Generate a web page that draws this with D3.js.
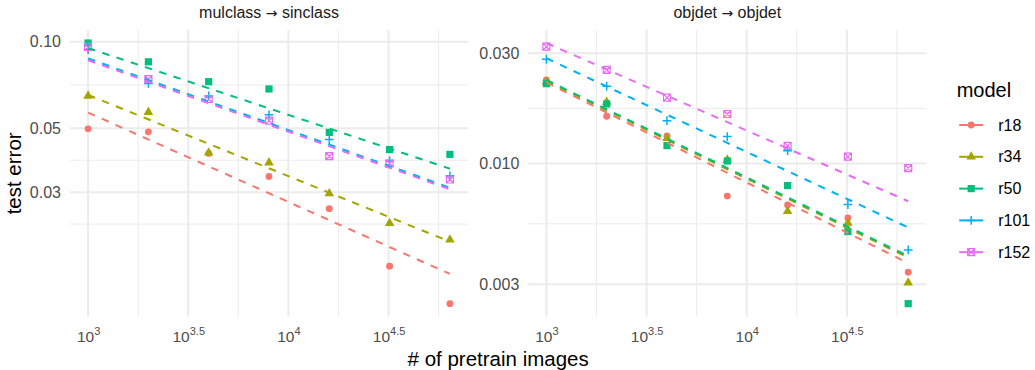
<!DOCTYPE html>
<html>
<head>
<meta charset="utf-8">
<script src="https://cdn.jsdelivr.net/npm/d3@7"></script>
<style>
  body { margin: 0; background: #fff; }
  text { font-family: "Liberation Sans", Arial, sans-serif; }
</style>
</head>
<body>
<script>
var width = 1035,
    height = 370;

var models = ["r18", "r34", "r50", "r101", "r152"];
var colors = ["#F8766D", "#A3A500", "#00BF7D", "#00B0F6", "#E76BF3"];
var shapes = ["circle", "triangle", "square", "plus", "boxcross"];
var images = [1000, 2000, 4000, 8000, 16000, 32000, 64000];
var fitRange = [1000, 64000];
var xTickExp = ["3", "3.5", "4", "4.5"];

// mulclass -> sinclass
var mulR18  = [0.0498, 0.0486, 0.0409, 0.0340, 0.0263, 0.0166, 0.0123];
var mulR34  = [0.0648, 0.0569, 0.0411, 0.0380, 0.0297, 0.0234, 0.0205];
var mulR50  = [0.0989, 0.0851, 0.0726, 0.0685, 0.0484, 0.0422, 0.0406];
var mulR101 = [0.0938, 0.0716, 0.0648, 0.0557, 0.0457, 0.0385, 0.0342];
var mulR152 = [0.0958, 0.0741, 0.0632, 0.0532, 0.0400, 0.0378, 0.0332];
// trend line value at 1000 and at 64000 images
var mulFitStart = [0.0567, 0.0653, 0.0950, 0.0874, 0.0862];
var mulFitEnd   = [0.0156, 0.0202, 0.0362, 0.0311, 0.0307];
var mulTicks = [0.03, 0.05, 0.10];
var mulTickLabels = ["0.03", "0.05", "0.10"];

// objdet -> objdet
var objR18  = [0.02299, 0.01601, 0.01316, 0.00722, 0.00661, 0.00581, 0.00338];
var objR34  = [0.02254, 0.01846, 0.01286, 0.01036, 0.00621, 0.00553, 0.00304];
var objR50  = [0.02216, 0.01810, 0.01195, 0.01025, 0.00802, 0.00507, 0.00247];
var objR101 = [0.02827, 0.02160, 0.01533, 0.01307, 0.01136, 0.00664, 0.00422];
var objR152 = [0.03205, 0.02541, 0.01928, 0.01638, 0.01191, 0.01071, 0.00954];
var objFitStart = [0.02243, 0.02277, 0.0230, 0.02855, 0.03324];
var objFitEnd   = [0.00370, 0.00391, 0.00397, 0.00528, 0.00686];
var objTicks = [0.003, 0.010, 0.030];
var objTickLabels = ["0.003", "0.010", "0.030"];

var panels = [
  { title: ["mulclass", "sinclass"], series: [mulR18, mulR34, mulR50, mulR101, mulR152],
    fitStart: mulFitStart, fitEnd: mulFitEnd, ticks: mulTicks, labels: mulTickLabels, left: 70 },
  { title: ["objdet", "objdet"], series: [objR18, objR34, objR50, objR101, objR152],
    fitStart: objFitStart, fitEnd: objFitEnd, ticks: objTicks, labels: objTickLabels, left: 528.3 }
];

var panelW = 398,
    panelTop = 30,
    panelBottom = 316.7,
    grid = "#EBEBEB",
    tickCol = "#4D4D4D";

var svg = d3.select("body").append("svg")
    .attr("width", width)
    .attr("height", height);

// log domain padded by 5% like ggplot
function padLog(vals) {
  var lo = Math.log10(d3.min(vals)), hi = Math.log10(d3.max(vals)), p = (hi - lo) * 0.05;
  return [Math.pow(10, lo - p), Math.pow(10, hi + p)];
}

// minor breaks halfway between majors (log space), extended one step out
function minorBreaks(ticks) {
  var b = ticks.map(Math.log10), bd = b[1] - b[0];
  b = [b[0] - bd].concat(b, [b[b.length - 1] + bd]);
  var out = [];
  for (var i = 0; i < b.length - 1; i++) out.push((b[i] + b[i + 1]) / 2);
  return out.map(function(v) { return Math.pow(10, v); });
}

function drawShape(g, shape, color) {
  if (shape == "circle") {
    g.append("path").attr("d", d3.symbol(d3.symbolCircle, 37)()).attr("fill", color);
  } else if (shape == "triangle") {
    g.append("path").attr("d", d3.symbol(d3.symbolTriangle, 40)()).attr("fill", color);
  } else if (shape == "square") {
    g.append("path").attr("d", d3.symbol(d3.symbolSquare, 52)()).attr("fill", color);
  } else if (shape == "plus") {
    g.append("path").attr("d", "M-4.4,0H4.4M0,-4.4V4.4")
      .attr("stroke", color).attr("stroke-width", 1.5).attr("fill", "none");
  } else {
    g.append("path").attr("d", "M-3.5,-3.5H3.5V3.5H-3.5ZM-3.5,-3.5L3.5,3.5M3.5,-3.5L-3.5,3.5")
      .attr("stroke", color).attr("stroke-width", 1.2).attr("fill", "none");
  }
}

var xAll = images.concat(fitRange);
var x0 = d3.scaleLog().domain(padLog(xAll)).range([0, panelW]);
var xTicks = xTickExp.map(function(e) { return Math.pow(10, +e); });
var xMinor = minorBreaks(xTicks);

panels.forEach(function(p) {
  var g = svg.append("g").attr("transform", "translate(" + p.left + ",0)");
  var allY = [];
  p.series.forEach(function(s) { allY = allY.concat(s); });
  allY = allY.concat(p.fitStart, p.fitEnd);

  var x = x0;
  var y = d3.scaleLog().domain(padLog(allY)).range([panelBottom, panelTop]);
  var yMinor = minorBreaks(p.ticks).filter(function(v) { return v > y.domain()[0] && v < y.domain()[1]; });
  var xm = xMinor.filter(function(v) { return v > x.domain()[0] && v < x.domain()[1]; });

  // grid
  g.selectAll(".ymin").data(yMinor).enter().append("line")
    .attr("x1", 0).attr("x2", panelW).attr("y1", y).attr("y2", y)
    .attr("stroke", grid).attr("stroke-width", 1);
  g.selectAll(".xmin").data(xm).enter().append("line")
    .attr("x1", x).attr("x2", x).attr("y1", panelTop).attr("y2", panelBottom)
    .attr("stroke", grid).attr("stroke-width", 1);
  g.selectAll(".ymaj").data(p.ticks).enter().append("line")
    .attr("x1", 0).attr("x2", panelW).attr("y1", y).attr("y2", y)
    .attr("stroke", grid).attr("stroke-width", 2);
  g.selectAll(".xmaj").data(xTicks).enter().append("line")
    .attr("x1", x).attr("x2", x).attr("y1", panelTop).attr("y2", panelBottom)
    .attr("stroke", grid).attr("stroke-width", 2);

  // y axis
  var gy = g.append("g")
    .call(d3.axisLeft(y).tickValues(p.ticks).tickSize(0).tickPadding(9)
      .tickFormat(function(d, i) { return p.labels[i]; }));
  gy.select(".domain").remove();
  gy.selectAll("text").attr("fill", tickCol).style("font-size", "16px")
    .style("font-family", '"Liberation Sans", Arial, sans-serif');

  // x axis with superscript powers
  var gx = g.append("g").attr("transform", "translate(0," + panelBottom + ")")
    .call(d3.axisBottom(x).tickValues(xTicks).tickSize(0).tickFormat(""));
  gx.select(".domain").remove();
  gx.selectAll(".tick text").remove();
  gx.selectAll(".tick").each(function(d, i) {
    var t = d3.select(this).append("text")
      .attr("y", 25).attr("text-anchor", "middle").attr("fill", tickCol).style("font-size", "15.5px");
    t.append("tspan").text("10");
    t.append("tspan").attr("dy", -6.5).style("font-size", "11px").text(xTickExp[i]);
  });

  // strip title, arrow from a font with a long arrow glyph
  var st = g.append("text")
    .attr("x", panelW / 2).attr("y", 18)
    .attr("text-anchor", "middle")
    .attr("fill", "#1A1A1A")
    .style("font-size", "16px");
  st.append("tspan").text(p.title[0] + " ");
  st.append("tspan").style("font-family", '"DejaVu Sans", sans-serif').style("font-size", "14px").text("\u2192");
  st.append("tspan").text(" " + p.title[1]);

  // points
  p.series.forEach(function(s, k) {
    g.selectAll(".pt" + k).data(s).enter().append("g")
      .attr("transform", function(d, i) { return "translate(" + x(images[i]) + "," + y(d) + ")"; })
      .each(function() { drawShape(d3.select(this), shapes[k], colors[k]); });
  });

  // dashed trend lines
  var line = d3.line().x(function(d) { return x(d[0]); }).y(function(d) { return y(d[1]); });
  models.forEach(function(m, k) {
    g.append("path")
      .attr("d", line([[fitRange[0], p.fitStart[k]], [fitRange[1], p.fitEnd[k]]]))
      .attr("fill", "none")
      .attr("stroke", colors[k])
      .attr("stroke-width", 2)
      .attr("stroke-dasharray", "7.5,7.5");
  });
});

// axis titles
svg.append("text")
  .attr("x", (panels[0].left + panels[1].left + panelW) / 2).attr("y", 366)
  .attr("text-anchor", "middle")
  .style("font-size", "20.5px")
  .text("# of pretrain images");

svg.append("text")
  .attr("transform", "translate(20.5," + (panelTop + panelBottom) / 2 + ") rotate(-90)")
  .attr("text-anchor", "middle")
  .style("font-size", "20.5px")
  .text("test error");

// legend
var legend = svg.append("g").attr("transform", "translate(956.7,0)");
legend.append("text").attr("x", 0).attr("y", 97).style("font-size", "20px").text("model");
models.forEach(function(m, k) {
  var row = legend.append("g").attr("transform", "translate(0," + (125 + k * 31.8) + ")");
  row.append("line").attr("x1", 2.5).attr("x2", 26.5)
    .attr("stroke", colors[k]).attr("stroke-width", 2);
  var pt = row.append("g").attr("transform", "translate(14.5,0)");
  drawShape(pt, shapes[k], colors[k]);
  row.append("text").attr("x", 41.5).attr("dy", "0.35em").style("font-size", "16px").text(m);
});
</script>
</body>
</html>
